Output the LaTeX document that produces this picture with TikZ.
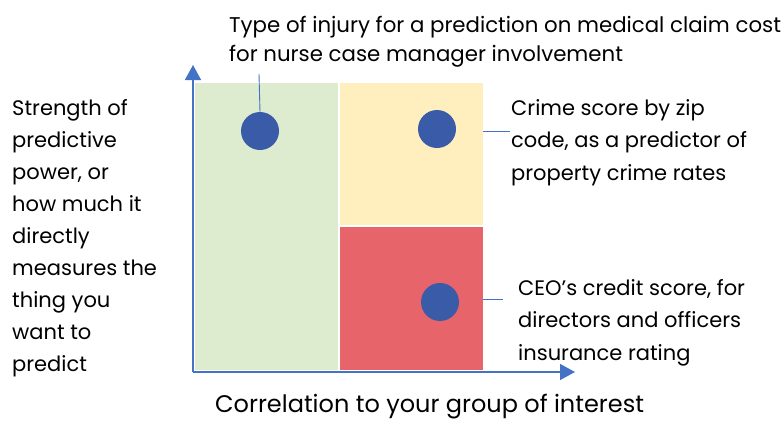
\documentclass[tikz,border=0pt]{standalone}
\usepackage{fontspec}
\setmainfont{Poppins}
\usetikzlibrary{arrows.meta}
\definecolor{qgreen}{HTML}{DDEBCF}
\definecolor{qyellow}{HTML}{FFEFBF}
\definecolor{qred}{HTML}{E8646B}
\definecolor{dotblue}{HTML}{3A5CA8}
\definecolor{axisblue}{HTML}{4472C4}
\tikzset{
  dot/.style={circle, fill=dotblue, draw=none, minimum size=38pt, inner sep=0pt},
  axis/.style={draw=axisblue, line width=1.5pt, -{Triangle[width=16pt,length=15pt]}},
  leader/.style={draw=axisblue, line width=0.9pt},
  label/.style={align=left, inner sep=0pt, anchor=base west, text=black,
    font=\fontsize{21}{32.2}\selectfont},
}
\begin{document}
\begin{tikzpicture}[x=1pt, y=-1pt]
  \useasboundingbox (0,0) rectangle (782,421);

  % quadrants
  \fill[qgreen]  (195,83) rectangle (338,370);
  \fill[qyellow] (340,83) rectangle (483,225);
  \fill[qred]    (340,227) rectangle (483,370);

  % axes
  \coordinate (origin) at (193,372);
  \coordinate (ytip) at (193,65);
  \coordinate (xtip) at (575,372);
  \draw[axis] (origin) -- (ytip);
  \draw[axis] (origin) -- (xtip);

  % example points
  \node[dot] (dotA) at (260,131) {};
  \node[dot] (dotB) at (437,129) {};
  \node[dot] (dotC) at (440,302) {};

  % labels (anchored on the baseline of their last line)
  \node[label, font=\fontsize{21.3}{29}\selectfont] (lblA) at (229,61) {Type of injury for a prediction on medical claim cost\\for nurse case manager involvement};
  \node[label] (lblB) at (511,180) {Crime score by zip\\code, as a predictor of\\property crime rates};
  \node[label] (lblC) at (518,360) {CEO’s credit score, for\\directors and officers\\insurance rating};
  \node[label, font=\fontsize{21}{32}\selectfont] (lblY) at (12,371) {Strength of\\predictive\\power, or\\how much it\\directly\\measures the\\thing you\\want to\\predict};
  \node[label, font=\fontsize{24}{32}\selectfont] (lblX) at (215,412) {Correlation to your group of interest};

  % leader lines
  \coordinate (endA) at (259,74);
  \coordinate (startB) at (483,131);
  \coordinate (endB) at (510,131);
  \coordinate (startC) at (483,299);
  \coordinate (endC) at (503,299);
  \draw[leader] (dotA.north) -- (endA);
  \draw[leader] (startB) -- (endB);
  \draw[leader] (startC) -- (endC);
\end{tikzpicture}
\end{document}
